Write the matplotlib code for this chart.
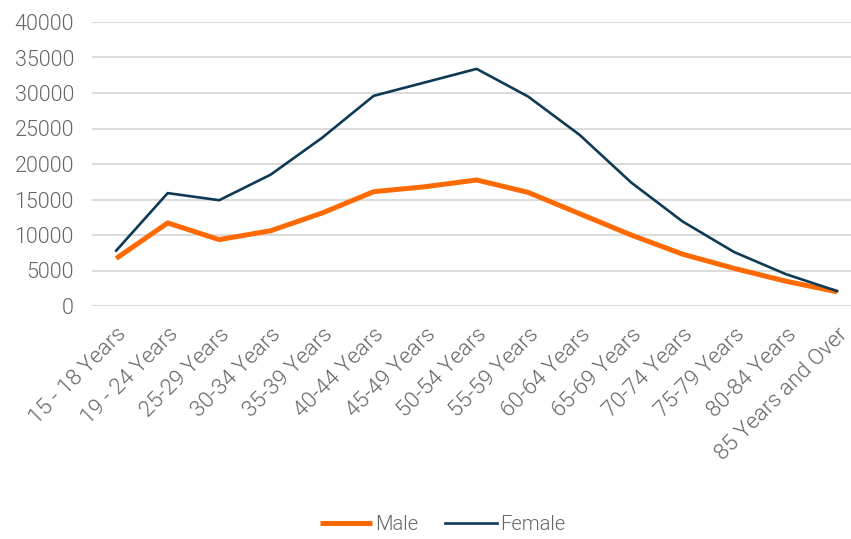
import matplotlib
matplotlib.use("Agg")
import matplotlib.pyplot as plt

categories = ["15 - 18 Years", "19 - 24 Years", "25-29 Years", "30-34 Years", "35-39 Years",
              "40-44 Years", "45-49 Years", "50-54 Years", "55-59 Years", "60-64 Years",
              "65-69 Years", "70-74 Years", "75-79 Years", "80-84 Years", "85 Years and Over"]
male = [6700, 11700, 9350, 10600, 13100, 16100, 16800, 17750, 16000, 13000, 10000, 7300, 5300, 3500, 2000]
female = [7800, 15900, 14900, 18500, 23700, 29600, 31500, 33400, 29500, 24100, 17400, 11900, 7600, 4500, 2100]
yticks = [0, 5000, 10000, 15000, 20000, 25000, 30000, 35000, 40000]

plt.rcParams['font.family'] = ['Roboto', 'DejaVu Sans']
grey = '#666666'
fw = 300

fig = plt.figure(figsize=(8.51, 5.39), dpi=100)
ax = fig.add_axes([92/851, 1-306/539, (851-92)/851, (306-22)/539])
x = list(range(len(categories)))
ax.plot(x, male, color='#ff6a00', lw=3.6, label='Male', solid_capstyle='butt')
ax.plot(x, female, color='#0e3a55', lw=1.9, label='Female')

ax.set_ylim(0, 40000)
ax.set_xlim(-0.47, 14.27)
ax.set_yticks(yticks)
ax.set_yticklabels([str(v) for v in yticks], color=grey, fontsize=15.5, fontweight=fw)
ax.set_xticks(x)
ax.set_xticklabels(categories, rotation=45, ha='right', rotation_mode='anchor',
                   color=grey, fontsize=16, fontweight=fw)
ax.tick_params(axis='y', length=0, pad=13)
ax.tick_params(axis='x', length=0, pad=13)
ax.grid(axis='y', color='#d9d9d9', lw=1.3)
ax.set_axisbelow(True)
for s in ax.spines.values():
    s.set_visible(False)

leg = fig.legend(loc='lower center', bbox_to_anchor=(0.52, -0.025), ncol=2, frameon=False,
                 fontsize=14.5, handlelength=2.6, columnspacing=1.3, handletextpad=0.15)
for t in leg.get_texts():
    t.set_color(grey)
    t.set_fontweight(fw)

fig.savefig('out.png', dpi=100)
